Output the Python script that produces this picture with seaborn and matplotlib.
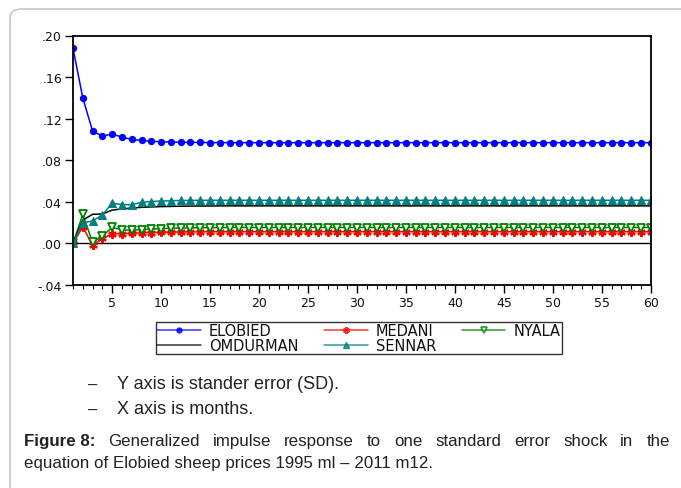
import matplotlib
matplotlib.use("Agg")
import matplotlib.pyplot as plt
import seaborn as sns
import pandas as pd
import numpy as np
from matplotlib.patches import FancyBboxPatch
from matplotlib.lines import Line2D

months = list(range(1, 61))

elobied = [0.1877, 0.140, 0.108, 0.1033, 0.1052, 0.1023, 0.1000, 0.0991, 0.0982, 0.0978,
           0.0975, 0.0973, 0.0972, 0.0971, 0.0970, 0.0970, 0.0969, 0.0969, 0.0969, 0.0969,
           0.0969, 0.0969, 0.0969, 0.0969, 0.0969, 0.0969, 0.0969, 0.0969, 0.0969, 0.0969,
           0.0969, 0.0969, 0.0969, 0.0969, 0.0969, 0.0969, 0.0969, 0.0969, 0.0969, 0.0969,
           0.0969, 0.0969, 0.0969, 0.0969, 0.0969, 0.0969, 0.0969, 0.0969, 0.0969, 0.0969,
           0.0969, 0.0969, 0.0969, 0.0969, 0.0969, 0.0969, 0.0969, 0.0969, 0.0969, 0.0969]

medani = [0.0, 0.016, -0.002, 0.005, 0.009, 0.0095, 0.0097, 0.0102, 0.0105, 0.0107,
          0.0109, 0.0110, 0.0111, 0.0111, 0.0112, 0.0112, 0.0112, 0.0112, 0.0112, 0.0112,
          0.0112, 0.0112, 0.0112, 0.0112, 0.0112, 0.0112, 0.0112, 0.0112, 0.0112, 0.0112,
          0.0112, 0.0112, 0.0112, 0.0112, 0.0112, 0.0112, 0.0112, 0.0112, 0.0112, 0.0112,
          0.0112, 0.0112, 0.0112, 0.0112, 0.0112, 0.0112, 0.0112, 0.0112, 0.0112, 0.0112,
          0.0112, 0.0112, 0.0112, 0.0112, 0.0112, 0.0112, 0.0112, 0.0112, 0.0112, 0.0112]

nyala = [0.0, 0.028, 0.001, 0.007, 0.0155, 0.013, 0.0127, 0.0133, 0.0138, 0.0142,
         0.0146, 0.0148, 0.0150, 0.0151, 0.0152, 0.0152, 0.0153, 0.0153, 0.0153, 0.0153,
         0.0153, 0.0153, 0.0153, 0.0153, 0.0153, 0.0153, 0.0153, 0.0153, 0.0153, 0.0153,
         0.0153, 0.0153, 0.0153, 0.0153, 0.0153, 0.0153, 0.0153, 0.0153, 0.0153, 0.0153,
         0.0153, 0.0153, 0.0153, 0.0153, 0.0153, 0.0153, 0.0153, 0.0153, 0.0153, 0.0153,
         0.0153, 0.0153, 0.0153, 0.0153, 0.0153, 0.0153, 0.0153, 0.0153, 0.0153, 0.0153]

omdurman = [0.0, 0.0225, 0.0280, 0.0283, 0.0320, 0.0332, 0.0340, 0.0347, 0.0351, 0.0354,
            0.0356, 0.0358, 0.0359, 0.0360, 0.0360, 0.0361, 0.0361, 0.0361, 0.0361, 0.0361,
            0.0361, 0.0361, 0.0361, 0.0361, 0.0361, 0.0361, 0.0361, 0.0361, 0.0361, 0.0361,
            0.0361, 0.0361, 0.0361, 0.0361, 0.0361, 0.0361, 0.0361, 0.0361, 0.0361, 0.0361,
            0.0361, 0.0361, 0.0361, 0.0361, 0.0361, 0.0361, 0.0361, 0.0361, 0.0361, 0.0361,
            0.0361, 0.0361, 0.0361, 0.0361, 0.0361, 0.0361, 0.0361, 0.0361, 0.0361, 0.0361]

sennar = [0.0, 0.020, 0.0215, 0.0275, 0.0386, 0.0374, 0.0372, 0.0395, 0.0403, 0.0408,
          0.0411, 0.0413, 0.0414, 0.0415, 0.0415, 0.0415, 0.0415, 0.0415, 0.0415, 0.0415,
          0.0415, 0.0415, 0.0415, 0.0415, 0.0415, 0.0415, 0.0415, 0.0415, 0.0415, 0.0415,
          0.0415, 0.0415, 0.0415, 0.0415, 0.0415, 0.0415, 0.0415, 0.0415, 0.0415, 0.0415,
          0.0415, 0.0415, 0.0415, 0.0415, 0.0415, 0.0415, 0.0415, 0.0415, 0.0415, 0.0415,
          0.0415, 0.0415, 0.0415, 0.0415, 0.0415, 0.0415, 0.0415, 0.0415, 0.0415, 0.0415]

y_ticks = [-0.04, 0.0, 0.04, 0.08, 0.12, 0.16, 0.20]
y_tick_labels = ["-.04", ".00", ".04", ".08", ".12", ".16", ".20"]
x_ticks = [5, 10, 15, 20, 25, 30, 35, 40, 45, 50, 55, 60]

sns.set_theme(style="white")
plt.rcParams['font.family'] = ['DejaVu Sans']

W, H = 681, 489
fig = plt.figure(figsize=(W / 100, H / 100), dpi=100)

# page card border
card = FancyBboxPatch((10 / W, -0.2), 1.2, (H - 10) / H + 0.2,
                      boxstyle="round,pad=0,rounding_size=0.018",
                      transform=fig.transFigure, facecolor="white",
                      edgecolor="#c8c8c8", linewidth=1.2, zorder=-10)
fig.patches.append(card)

ax = fig.add_axes([73 / W, (H - 286) / H, (650.7 - 73) / W, (286 - 36.5) / H])
ax.set_facecolor("white")
ax.patch.set_alpha(0)

series = [
    ("ELOBIED", elobied, "#0000ff", "o", dict(markersize=4.5, markerfacecolor="#0000ff", markeredgecolor="#0000ff")),
    ("MEDANI", medani, "#ff0000", (6, 2, 0), dict(markersize=6, markeredgewidth=1.6, markeredgecolor="#ff0000")),
    ("NYALA", nyala, "#008000", "v", dict(markersize=5.2, markerfacecolor="white", markeredgecolor="#008000", markeredgewidth=1.3)),
    ("OMDURMAN", omdurman, "#000000", None, dict()),
    ("SENNAR", sennar, "#008080", "^", dict(markersize=5.5, markerfacecolor="#008080", markeredgecolor="#008080")),
]

ax.axhline(0, color="black", linewidth=1.0, zorder=1)

handles = {}
for name, vals, col, mk, kw in series:
    df = pd.DataFrame({"month": months, "value": vals})
    sns.lineplot(data=df, x="month", y="value", ax=ax, color=col, linewidth=1.1,
                 marker=mk if mk is not None else "", legend=False, **kw)
    lkw = dict(kw)
    if "markersize" in lkw:
        lkw["markersize"] = lkw["markersize"] * 0.8
    handles[name] = Line2D([0], [0], color=col, linewidth=1.1, alpha=0.8,
                           marker=mk if mk is not None else "", **lkw)

ax.set_xlim(1, 60)
ax.set_ylim(-0.04, 0.20)
ax.set_xticks(x_ticks)
ax.set_xticks(months, minor=True)
ax.set_yticks(y_ticks)
ax.set_yticklabels(y_tick_labels)
ax.set_xlabel("")
ax.set_ylabel("")
ax.tick_params(axis="both", which="major", direction="out", length=5.5, width=1,
               color="black", labelsize=9, labelcolor="#111111", bottom=True, left=True)
ax.tick_params(axis="x", which="minor", direction="out", length=3, width=0.8,
               color="black", bottom=True)
ax.tick_params(axis="x", pad=2.5)
ax.tick_params(axis="y", pad=2.5)
for s in ax.spines.values():
    s.set_color("black")
    s.set_linewidth(1.3)

order = ["ELOBIED", "OMDURMAN", "MEDANI", "SENNAR", "NYALA"]
leg = fig.legend([handles[n] for n in order], order, ncol=3,
                 loc="upper left", bbox_to_anchor=(156 / W, 1 - 323 / H),
                 frameon=True, fancybox=False, edgecolor="black", fontsize=10.5,
                 handlelength=3.0, columnspacing=1.75, handletextpad=0.55,
                 borderpad=0.08, labelspacing=0.0, borderaxespad=0)
leg.get_frame().set_linewidth(1.0)
for t in leg.get_texts():
    t.set_color("#111111")

txtfam = ['Liberation Sans']
tc = "#222222"
fig.text(88 / W, 1 - 385 / H, "–", fontsize=12, va="center", ha="left", color=tc, family=txtfam)
fig.text(117 / W, 1 - 385 / H, "Y axis is stander error (SD).", fontsize=13, va="center", ha="left", color=tc, family=txtfam)
fig.text(88 / W, 1 - 410 / H, "–", fontsize=12, va="center", ha="left", color=tc, family=txtfam)
fig.text(117 / W, 1 - 410 / H, "X axis is months.", fontsize=13, va="center", ha="left", color=tc, family=txtfam)

# justified first caption line
fig.canvas.draw()
renderer = fig.canvas.get_renderer()
cap_fs = 12.2
y1 = 1 - 442 / H
bold = fig.text(24 / W, y1, "Figure 8:", fontsize=cap_fs, fontweight="bold",
                va="center", ha="left", color=tc, family=txtfam)
words = "Generalized impulse response to one standard error shock in the".split()
wobjs = [fig.text(0, y1, w, fontsize=cap_fs, va="center", ha="left", color=tc, family=txtfam) for w in words]
bw = bold.get_window_extent(renderer).width
widths = [t.get_window_extent(renderer).width for t in wobjs]
start = 24 + bw
end = 670
gap = (end - start - sum(widths)) / len(words)
x = start + gap
for t, wd in zip(wobjs, widths):
    t.set_x(x / W)
    x += wd + gap

fig.text(24 / W, 1 - 464 / H, "equation of Elobied sheep prices 1995 ml – 2011 m12.",
         fontsize=cap_fs, va="center", ha="left", color=tc, family=txtfam)

fig.savefig("out.png", dpi=100, facecolor="white")
